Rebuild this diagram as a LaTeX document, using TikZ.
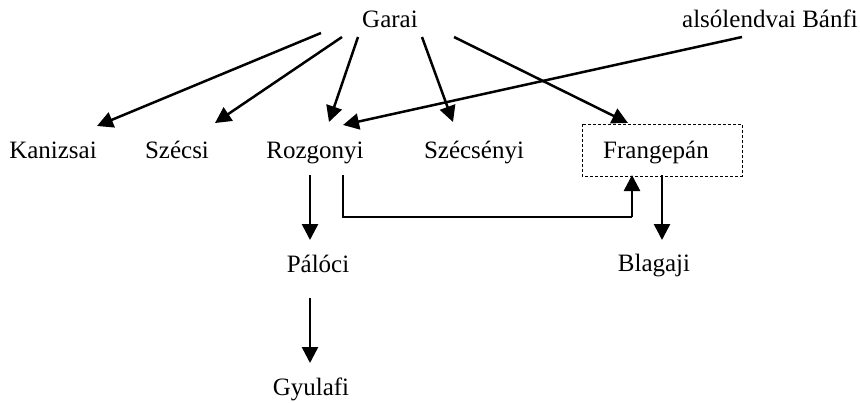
\documentclass[tikz,border=0pt]{standalone}
\usepackage{fontspec}
\setmainfont{Liberation Serif}
\usepackage{tikz}
\usetikzlibrary{arrows.meta, calc, positioning}
\tikzset{
    family/.style={anchor=base, inner sep=0pt, font=\fontsize{25}{30}\selectfont},
    descent/.style={-{Triangle[width=16pt, length=16pt]}, line width=2.5pt},
    plainLink/.style={line width=1.6pt},
    marriageBox/.style={draw, densely dashed, line width=0.8pt},
}

\begin{document}
\begin{tikzpicture}[x=1pt, y=-1pt]
    \useasboundingbox (0,0) rectangle (860,402);

    % top row
    \node[family] (garai) at (390, 27) {Garai};
    \node[family] (banfi) at (770, 27) {alsólendvai Bánfi};

    % second row
    \node[family] (kanizsai) at (53, 158) {Kanizsai};
    \node[family] (szecsi) at (177, 158) {Szécsi};
    \node[family] (rozgonyi) at (315, 158) {Rozgonyi};
    \node[family] (szecsenyi) at (474, 158) {Szécsényi};
    \node[family] (frangepan) at (656, 158) {Frangepán};
    \draw[marriageBox] ([shift={(-74,-34)}]frangepan.base) rectangle ([shift={(86,18)}]frangepan.base);

    % lower rows
    \node[family] (paloci) at (318, 272) {Pálóci};
    \node[family] (blagaji) at (654, 271) {Blagaji};
    \node[family] (gyulafi) at (311, 395) {Gyulafi};

    \draw[descent] ([shift={(-69,6)}]garai.base) -- ([shift={(44,-32)}]kanizsai.base);
    \draw[descent] ([shift={(-48,10)}]garai.base) -- ([shift={(38,-35)}]szecsi.base);
    \draw[descent] ([shift={(-32,10)}]garai.base) -- ([shift={(14,-36)}]rozgonyi.base);
    \draw[descent] ([shift={(32,10)}]garai.base) -- ([shift={(-21,-36)}]szecsenyi.base);
    \draw[descent] ([shift={(64,10)}]garai.base) -- ([shift={(-28,-35)}]frangepan.base);
    \draw[descent] ([shift={(-28,10)}]banfi.base) -- ([shift={(28,-33)}]rozgonyi.base);

    \draw[descent] ([shift={(-5,17)}]rozgonyi.base) -- ([shift={(-8,-32)}]paloci.base);
    \draw[descent] ([shift={(-8,26)}]paloci.base) -- ([shift={(-1,-32)}]gyulafi.base);
    \draw[descent] ([shift={(6,17)}]frangepan.base) -- ([shift={(8,-31)}]blagaji.base);

    % link Rozgonyi - Frangepán
    \coordinate (corner) at ($(frangepan.base)+(-24,59)$);
    \draw[plainLink] ([shift={(28,17)}]rozgonyi.base) |- (corner);
    \draw[descent] (corner) -- ([shift={(-24,17)}]frangepan.base);
\end{tikzpicture}
\end{document}
